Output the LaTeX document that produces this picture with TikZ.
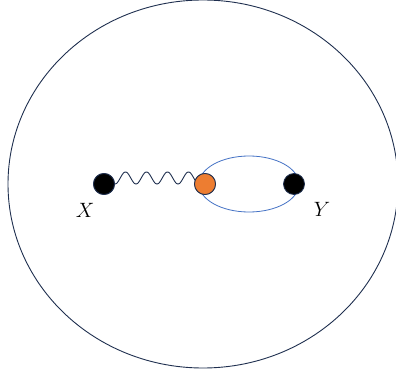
\documentclass[tikz,border=0pt]{standalone}
\usepackage{amsmath}
\definecolor{navy}{HTML}{1F2F4F}
\definecolor{loopblue}{HTML}{4472C4}
\definecolor{dotorange}{HTML}{ED7D31}
\begin{document}
\begin{tikzpicture}[x=1pt,y=-1pt,
  vertex/.style={circle,draw=navy,line width=0.8pt,minimum size=21pt,inner sep=0pt},
  lbl/.style={inner sep=0pt,font=\fontsize{20}{22}\selectfont}]
\useasboundingbox (0,0) rectangle (396,377);
\draw[navy,line width=0.9pt] (203,184) ellipse [x radius=195, y radius=184];
\draw[loopblue,line width=0.8pt] (249,184) ellipse [x radius=50, y radius=28];
\node[vertex,fill=black] (X) at (104,184) {};
\node[vertex,fill=dotorange] (O) at (205,184) {};
\node[vertex,fill=black] (Y) at (294,184) {};
\draw[navy,line width=0.9pt,shift={(X.center)}] plot[variable=\t,domain=0:4,samples=121] ({11+21*\t},{-6*(1-cos(360*\t))});
\node[vertex,fill=black] at (X) {};
\node[vertex,fill=dotorange] at (O) {};
\node[lbl] (xl) at (85,210) {$X$};
\node[lbl] (yl) at (322,209) {$Y$};
\end{tikzpicture}
\end{document}
